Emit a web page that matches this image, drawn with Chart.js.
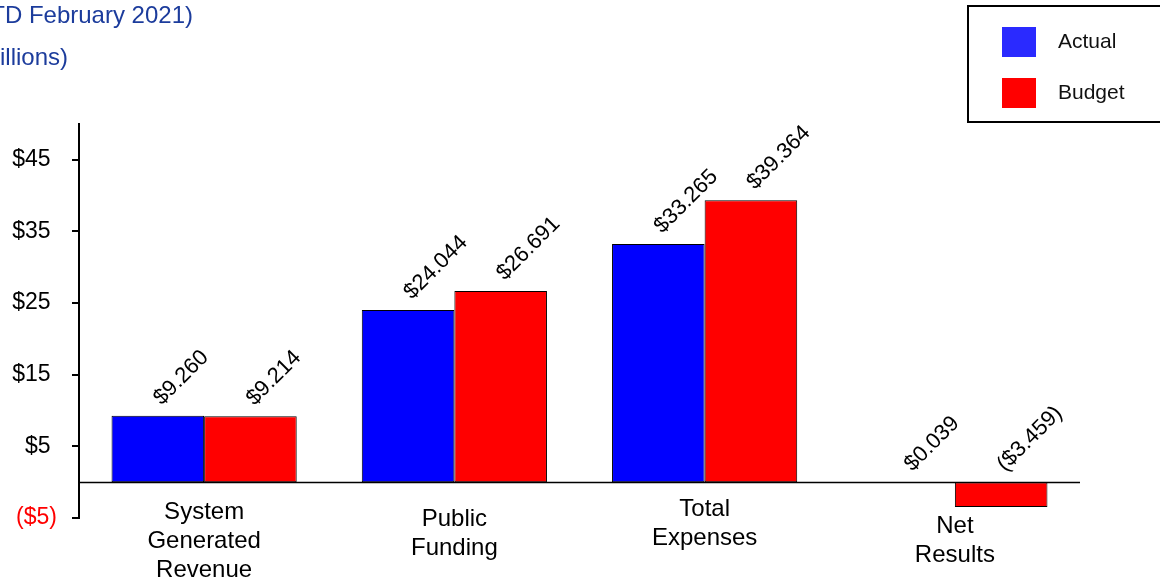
<!DOCTYPE html>
<html>
<head>
<meta charset="utf-8">
<script src="https://cdn.jsdelivr.net/npm/chart.js@4"></script>
<style>
  body { margin: 0; background: #fff; font-family: "Liberation Sans", Arial, sans-serif; }
  #wrap { position: relative; width: 1160px; height: 585px; overflow: hidden; }
  .title { position: absolute; white-space: nowrap; color: #1C3C9C; font-size: 24px; text-align: right; }
  #legend { position: absolute; left: 967px; top: 5px; width: 210px; height: 118px; border: 2px solid #000; box-sizing: border-box; }
  .item { position: absolute; left: 33px; font-size: 21px; color: #111; }
  .sw { display: inline-block; width: 34px; height: 30px; vertical-align: middle; margin-right: 22px; }
</style>
</head>
<body>
<div id="wrap">
  <div class="title" style="right:967px; top:1px;">Financial Results (YTD February 2021)</div>
  <div class="title" style="right:1092px; top:43px;">($ in Millions)</div>
  <div id="legend"></div>
  <canvas id="chart"></canvas>
</div>
<script>
// chart data
const categories = [
  ["System", "Generated", "Revenue"],
  ["Public", "Funding"],
  ["Total", "Expenses"],
  ["Net", "Results"],
];
const seriesNames = ["Actual", "Budget"];
const actual = [9.260, 24.044, 33.265, 0.039];
const budget = [9.214, 26.691, 39.364, -3.459];
const yTicks = [-5, 5, 15, 25, 35, 45];

const barColors = ["#0000FF", "#FF0000"];
const legendColors = ["#2A2AFF", "#FF0000"];
const FONT = "'Liberation Sans', Arial, sans-serif";
// the original's category text boxes sit at slightly different heights
const labelShift = [-4, 3, -7, 10];

function money(v, digits) {
  const s = "$" + Math.abs(v).toFixed(digits);
  return v < 0 ? "(" + s + ")" : s;
}

// legend (html, boxed like the original)
const legend = document.getElementById("legend");
seriesNames.forEach((name, i) => {
  const d = document.createElement("div");
  d.className = "item";
  d.style.top = (20 + i * 51) + "px";
  d.innerHTML = '<span class="sw" style="background:' + legendColors[i] + '"></span>' + name;
  legend.appendChild(d);
});

// horizontal line at zero
const zeroLine = {
  id: "zeroLine",
  afterDatasetsDraw(chart) {
    const { ctx, chartArea, scales } = chart;
    const y = Math.round(scales.y.getPixelForValue(0)) + 0.5;
    ctx.save();
    ctx.strokeStyle = "#000";
    ctx.lineWidth = 1.5;
    ctx.beginPath();
    ctx.moveTo(chartArea.left, y);
    ctx.lineTo(chartArea.right, y);
    ctx.stroke();
    ctx.restore();
  },
};

// rotated value labels above each bar + category names under the axis
const textLayer = {
  id: "textLayer",
  afterDatasetsDraw(chart) {
    const ctx = chart.ctx;
    const xs = chart.scales.x;
    ctx.save();
    ctx.fillStyle = "#000";
    ctx.font = "22px " + FONT;
    ctx.textAlign = "left";
    ctx.textBaseline = "alphabetic";
    chart.data.datasets.forEach((ds, di) => {
      chart.getDatasetMeta(di).data.forEach((bar, i) => {
        const top = Math.min(bar.y, bar.base);
        ctx.save();
        ctx.translate(bar.x + 4, top - 10);
        ctx.rotate(-Math.PI / 4);
        ctx.fillText(money(ds.data[i], 3), 0, 0);
        ctx.restore();
      });
    });

    ctx.font = "24px " + FONT;
    ctx.textAlign = "center";
    ctx.textBaseline = "middle";
    categories.forEach((lines, i) => {
      const x = xs.getPixelForValue(i);
      lines.forEach((t, j) => ctx.fillText(t, x, xs.top - 2 + labelShift[i] + j * 29));
    });
    ctx.restore();
  },
};

new Chart(document.getElementById("chart"), {
  type: "bar",
  data: {
    labels: categories.map((c) => c.join(" ")),
    datasets: [
      { label: seriesNames[0], data: actual, backgroundColor: barColors[0] },
      { label: seriesNames[1], data: budget, backgroundColor: barColors[1] },
    ].map((d) => Object.assign(d, {
      borderColor: "#000",
      borderWidth: 1,
      borderSkipped: false,
      categoryPercentage: 0.74,
      barPercentage: 1,
    })),
  },
  options: {
    responsive: true,
    maintainAspectRatio: false,
    animation: false,
    layout: { padding: { top: 124, right: 80, left: 0, bottom: 0 } },
    plugins: { legend: { display: false }, tooltip: { enabled: false } },
    scales: {
      x: {
        grid: { display: false, drawTicks: false },
        border: { display: false },
        ticks: { display: false },
        afterFit(scale) { scale.height = 67; },
      },
      y: {
        min: -5,
        max: 50,
        afterBuildTicks(scale) { scale.ticks = yTicks.map((v) => ({ value: v })); },
        afterFit(scale) { scale.width = 79; },
        grid: { drawOnChartArea: false, tickLength: 7, color: "#000", lineWidth: 2 },
        border: { display: true, color: "#000", width: 2 },
        ticks: {
          padding: 15,
          font: { family: FONT, size: 23 },
          color: (c) => (c.tick && c.tick.value < 0 ? "#FF0000" : "#000"),
          callback: (v) => (v < 0 ? money(v, 0) : money(v, 0) + " "),
        },
      },
    },
  },
  plugins: [zeroLine, textLayer],
});
</script>
</body>
</html>
